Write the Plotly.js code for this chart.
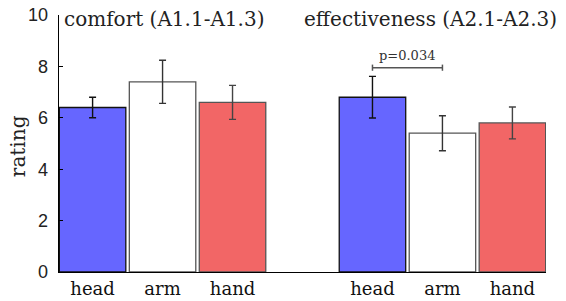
<!DOCTYPE html>
<html>
<head>
<meta charset="utf-8">
<script src="https://cdn.plot.ly/plotly-3.0.1.min.js"></script>
<style>html,body{margin:0;padding:0;background:#fff;}#chart{width:566px;height:301px;}</style>
</head>
<body>
<div id="chart"></div>
<script>
// Data
const groups = ["comfort (A1.1-A1.3)", "effectiveness (A2.1-A2.3)"];
const conditions = ["head", "arm", "hand"];
const headMeans = [6.4, 6.8];
const armMeans = [7.4, 5.4];
const handMeans = [6.6, 5.8];
const headErr = [0.4, 0.81];
const armErr = [0.84, 0.68];
const handErr = [0.66, 0.62];
const yTicks = [0, 2, 4, 6, 8, 10];
const yTitle = "rating";
const pLabel = "p=0.034";
const pGroup = 1;            // effectiveness
const pPair = [0, 1];        // head vs arm
const pBracketY = 7.95;

// Layout helpers: slot positions (group g, condition c) -> g*4 + c
const pos = (g, c) => g * 4 + c;
const serif = "DejaVu Serif";
const sans = "Liberation Sans";

const fills = ["#6666FF", "#FFFFFF", "#F26666"];
const outlines = ["#111111", "#555555", "#555555"];
const errColors = ["#111111", "#333333", "#444444"];
const means = [headMeans, armMeans, handMeans];
const errs = [headErr, armErr, handErr];

const traces = conditions.map((c, ci) => ({
  type: "bar",
  x: groups.map((g, gi) => pos(gi, ci)),
  y: means[ci],
  width: 0.95,
  marker: {color: fills[ci], line: {color: outlines[ci], width: 1.3}},
  error_y: {type: "data", array: errs[ci], visible: true, color: errColors[ci], thickness: 1.4, width: 3.5},
  hoverinfo: "skip",
  showlegend: false
}));

const tickvals = [], ticktext = [];
groups.forEach((g, gi) => conditions.forEach((c, ci) => { tickvals.push(pos(gi, ci)); ticktext.push(c); }));

const x0 = pos(pGroup, pPair[0]), x1 = pos(pGroup, pPair[1]);
const bc = "#555555";
const shapes = [
  {type: "line", xref: "x", yref: "y", x0: x0, x1: x1, y0: pBracketY, y1: pBracketY, line: {color: bc, width: 1.5}},
  {type: "line", xref: "x", yref: "y", x0: x0, x1: x0, y0: pBracketY - 0.12, y1: pBracketY + 0.12, line: {color: bc, width: 1.5}},
  {type: "line", xref: "x", yref: "y", x0: x1, x1: x1, y0: pBracketY - 0.12, y1: pBracketY + 0.12, line: {color: bc, width: 1.5}}
];

const annotations = [
  {xref: "paper", yref: "paper", x: 0.006, y: 0.985, xanchor: "left", yanchor: "middle", text: groups[0], showarrow: false, font: {family: serif, size: 20, color: "#222"}},
  {xref: "paper", yref: "paper", x: 1.027, y: 0.985, xanchor: "right", yanchor: "middle", text: groups[1], showarrow: false, font: {family: serif, size: 20, color: "#222"}},
  {xref: "x", yref: "y", x: (x0 + x1) / 2, y: pBracketY + 0.1, xanchor: "center", yanchor: "bottom", text: pLabel, showarrow: false, font: {family: serif, size: 13, color: "#333"}},
  {xref: "paper", yref: "paper", x: -0.084, y: 0.49, xanchor: "center", yanchor: "middle", textangle: -90, text: yTitle, showarrow: false, font: {family: serif, size: 20, color: "#222"}}
];

const layout = {
  width: 566, height: 301,
  margin: {l: 59, r: 20, t: 15, b: 29, pad: 0},
  paper_bgcolor: "#fff", plot_bgcolor: "#fff",
  bargap: 0,
  xaxis: {
    range: [-0.48, 6.48], tickvals: tickvals, ticktext: ticktext,
    showline: true, linecolor: "#000", linewidth: 1.3, ticks: "", showgrid: false, zeroline: false,
    tickfont: {family: serif, size: 18, color: "#111"}, fixedrange: true
  },
  yaxis: {
    range: [0, 10], tickvals: yTicks, showline: true, linecolor: "#000", linewidth: 1.3,
    ticks: "inside", ticklen: 4, tickcolor: "#000", showgrid: false, zeroline: false,
    ticklabelstandoff: 6,
    tickfont: {family: sans, size: 18, color: "#222"}
  },
  shapes: shapes,
  annotations: annotations
};

Plotly.newPlot("chart", traces, layout, {staticPlot: true, displayModeBar: false});
</script>
</body>
</html>
